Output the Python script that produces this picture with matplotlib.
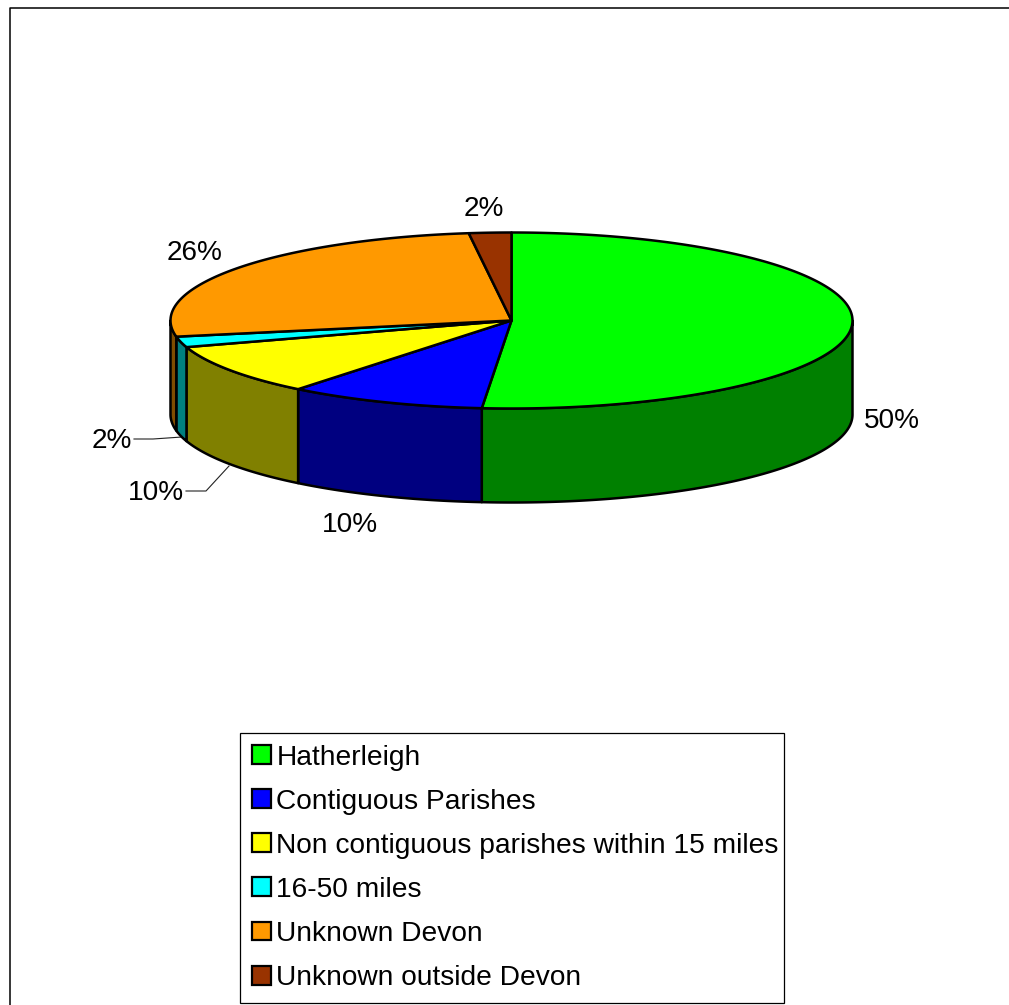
import matplotlib
matplotlib.use('Agg')
import matplotlib.pyplot as plt
from matplotlib.patches import Polygon, Rectangle
import numpy as np

plt.rcParams['font.family'] = ['Liberation Sans', 'DejaVu Sans']

categories = ['Hatherleigh', 'Contiguous Parishes',
              'Non contiguous parishes within 15 miles', '16-50 miles',
              'Unknown Devon', 'Unknown outside Devon']
percent = [50, 10, 10, 2, 26, 2]
top_colors = ['#00FF00', '#0000FF', '#FFFF00', '#00FFFF', '#FF9900', '#993300']
side_colors = ['#008000', '#000080', '#808000', '#008080', '#804D00', '#4D1A00']

# label centres, in the pixel coordinates of the axes
label_pos = [(892, 420.5), (350, 524.5), (156, 492.5), (112, 440.5), (195, 252.5), (484, 208.5)]

cx, cy = 511.5, 320.5
rx, ry = 341, 88
depth = 94


def skew(a):
    # the tilted disc pushes slice edges round a little on the near side
    return a + 5.0 * np.sin(np.radians(a) / 2) ** 12


def rim(a):
    t = np.radians(skew(a))
    return cx + rx * np.sin(t), cy - ry * np.cos(t)


fig = plt.figure(figsize=(10.09, 10.05), dpi=100)
ax = fig.add_axes([0, 0, 1, 1])
ax.set_xlim(0, 1009)
ax.set_ylim(1005, 0)
ax.axis('off')

# chart frame, only the top and left edges fall inside the image
ax.plot([9.5, 9.5, 1009], [1005, 7.5, 7.5], color='black', lw=1.1)

edges = np.cumsum([0] + percent) * 3.6

# walls first, only the part facing the viewer
for i in range(len(percent)):
    a0, a1 = edges[i], edges[i + 1]
    lo = max(a0, 85)
    hi = a1
    while skew(lo) < 90:
        lo += 0.1
    while hi > lo and skew(hi) > 270:
        hi -= 0.1
    if hi <= lo:
        continue
    x, y = rim(np.linspace(lo, hi, 200))
    pts = np.column_stack([np.r_[x, x[::-1]], np.r_[y, y[::-1] + depth]])
    ax.add_patch(Polygon(pts, closed=True, fc=side_colors[i], ec='black',
                         lw=1.8, joinstyle='round', zorder=2))

# top faces
for i in range(len(percent)):
    x, y = rim(np.linspace(edges[i], edges[i + 1], 300))
    pts = np.column_stack([np.r_[cx, x], np.r_[cy, y]])
    ax.add_patch(Polygon(pts, closed=True, fc=top_colors[i], ec='black',
                         lw=1.8, joinstyle='round', zorder=3))

# leader lines for the two small labels
ax.plot([134, 153, 182], [439, 439, 437], color='#222222', lw=0.8, zorder=1)
ax.plot([186, 206, 229], [491, 491, 466], color='#222222', lw=0.8, zorder=1)

for v, (lx, ly) in zip(percent, label_pos):
    ax.text(lx, ly, '%d%%' % v, ha='center', va='center', fontsize=20.15,
            color='black', zorder=4)

handles = [Rectangle((0, 0), 1, 1, fc=c, ec='black', lw=1.6) for c in top_colors]
# anchor box given as axes fractions
leg = ax.legend(handles, categories, loc='lower left',
                bbox_to_anchor=(240 / 1009, 2 / 1005, 544 / 1009, 270 / 1005),
                mode='expand', borderaxespad=0, fontsize=20.25, fancybox=False,
                framealpha=1, edgecolor='black', handlelength=0.66,
                handleheight=0.66, handletextpad=0.2, labelspacing=0.642,
                borderpad=0.43, labelcolor='black')
leg.get_frame().set_linewidth(0.9)

plt.savefig('out.png', dpi=100)
